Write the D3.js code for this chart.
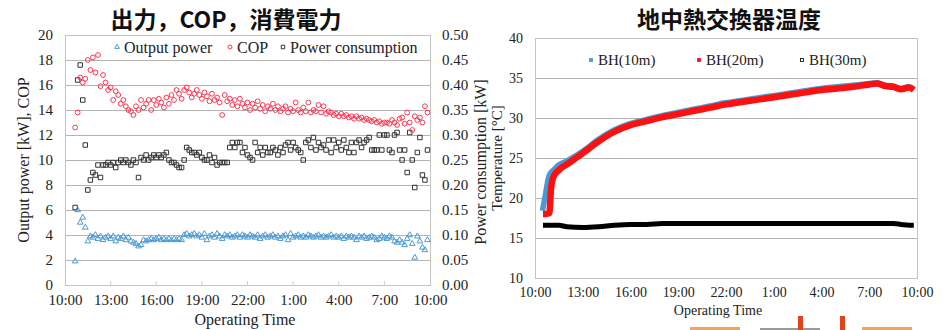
<!DOCTYPE html>
<html>
<head>
<meta charset="utf-8">
<script src="https://cdn.jsdelivr.net/npm/d3@7"></script>
<style>
  html, body { margin: 0; padding: 0; background: #fff; }
  svg { display: block; }
  .serif { font-family: "Liberation Serif", "DejaVu Serif", serif; fill: #222; }
  .ttl { font-family: "Noto Sans CJK JP", "Noto Sans CJK SC", sans-serif; font-weight: 700; fill: #111; }
</style>
</head>
<body>
<svg id="fig" width="948" height="330"></svg>
<script>
// ---- heat pump run: samples every 10 minutes, first sample at 10:40 ----
const sampleStartMin = 40;
const sampleStepMin = 10;

// Output power [kW]
const outputPower = [
  1.9, 6.0, 5.0, 5.4, 4.6, 3.5, 3.9, 3.8, 4.0, 3.7,
  3.9, 3.6, 3.8, 3.9, 3.7, 3.9, 3.5, 3.8, 3.7, 3.9,
  3.6, 3.8, 3.5, 3.4, 3.3, 3.1, 3.2, 3.6, 3.5, 3.6,
  3.7, 3.6, 3.7, 3.8, 3.6, 3.7, 3.6, 3.7, 3.6, 3.7,
  3.6, 3.7, 3.6, 4.0, 4.1, 3.9, 4.0, 4.1, 3.9, 4.0,
  3.8, 4.1, 3.6, 3.9, 4.0, 3.8, 4.1, 3.9, 3.7, 4.0,
  3.9, 4.0, 3.8, 3.9, 4.0, 3.8, 4.0, 3.9, 3.8, 4.0,
  3.9, 3.8, 4.0, 3.7, 3.9, 4.0, 3.8, 3.9, 4.0, 3.8,
  3.9, 3.7, 3.9, 4.0, 3.6, 4.1, 3.8, 3.9, 4.0, 3.8,
  3.9, 3.8, 4.0, 3.9, 3.8, 3.9, 4.0, 3.8, 3.9, 3.8,
  3.9, 4.0, 3.8, 3.9, 3.8, 3.9, 3.7, 3.9, 3.8, 3.9,
  3.8, 3.6, 3.9, 3.8, 3.9, 3.7, 3.8, 3.9, 3.8, 3.6,
  3.7, 3.9, 3.8, 3.7, 3.9, 3.8, 3.5, 3.4, 3.6, 3.4,
  3.2, 3.7, 4.0, 3.3, 2.2, 3.9, 3.5, 3.0, 2.8, 3.6
];

// COP [-]
const cop = [
  12.6, 13.8, 16.6, 16.2, 16.5, 18.0, 17.2, 18.2, 17.0, 18.4,
  15.9, 16.8, 16.2, 15.6, 15.8, 14.8, 15.5, 15.2, 14.5, 14.8,
  14.3, 14.0, 13.9, 13.6, 14.3, 14.0, 14.8, 14.2, 14.5, 14.8,
  14.0, 14.8, 14.4, 14.9, 14.6, 14.2, 15.0, 14.5, 15.2, 14.8,
  15.6, 15.3, 14.9, 15.6, 15.8, 15.4, 15.0, 15.3, 15.6, 15.2,
  14.9, 15.4, 15.1, 14.7, 15.3, 14.8, 15.0, 14.6, 13.6, 15.2,
  14.7, 14.9, 14.4, 14.8, 14.3, 14.9, 14.5, 14.2, 14.6, 14.0,
  14.5, 14.2, 14.7, 14.1, 14.4, 13.9, 14.3, 14.1, 14.5, 14.0,
  14.3, 13.9, 14.1, 14.3, 13.8, 14.1, 13.9, 14.6, 14.0, 13.8,
  14.2, 13.9, 14.6, 13.8, 14.0, 13.9, 14.4, 13.8, 14.3, 13.7,
  13.9, 13.8, 13.6, 13.7, 13.5, 13.7, 13.5, 13.6, 13.4, 13.5,
  13.3, 13.5, 13.3, 13.4, 13.2, 13.3, 13.2, 13.1, 13.2, 13.0,
  13.1, 12.9, 13.0, 13.0, 12.9, 13.2, 13.0, 12.8, 13.3, 13.4,
  12.9, 13.8, 13.0, 12.4, 13.5, 13.2, 13.4, 13.0, 14.3, 13.8
];

// Power consumption [kW] (secondary axis)
const powerConsumption = [
  0.155, 0.41, 0.44, 0.37, 0.28, 0.19, 0.21, 0.225, 0.22, 0.24,
  0.215, 0.24, 0.24, 0.245, 0.24, 0.245, 0.235, 0.245, 0.25, 0.245,
  0.25, 0.245, 0.24, 0.25, 0.245, 0.215, 0.255, 0.25, 0.26, 0.25,
  0.255, 0.26, 0.255, 0.26, 0.255, 0.26, 0.265, 0.25, 0.245, 0.245,
  0.24, 0.235, 0.235, 0.25, 0.275, 0.27, 0.265, 0.265, 0.26, 0.265,
  0.255, 0.25, 0.25, 0.26, 0.245, 0.255, 0.24, 0.245, 0.245, 0.245,
  0.245, 0.275, 0.285, 0.275, 0.285, 0.285, 0.265, 0.275, 0.26, 0.255,
  0.25, 0.285, 0.265, 0.275, 0.26, 0.275, 0.265, 0.265, 0.275, 0.27,
  0.26, 0.275, 0.265, 0.28, 0.285, 0.27, 0.285, 0.275, 0.27, 0.265,
  0.25, 0.285, 0.29, 0.275, 0.295, 0.27, 0.285, 0.275, 0.28, 0.27,
  0.29, 0.265, 0.29, 0.275, 0.285, 0.27, 0.29, 0.275, 0.265, 0.285,
  0.265, 0.285, 0.29, 0.275, 0.285, 0.29, 0.295, 0.27, 0.27, 0.27,
  0.30, 0.27, 0.30, 0.30, 0.27, 0.265, 0.30, 0.305, 0.27, 0.25,
  0.27, 0.225, 0.305, 0.25, 0.195, 0.265, 0.295, 0.22, 0.21, 0.27
];

// ---- borehole heat exchanger temperatures [°C], hours after 10:00 ----
const bhHours = [0.5, 0.7, 0.9, 1.0, 1.15, 1.5, 2, 3, 4, 5, 6, 7, 8, 9, 10, 11, 12,
                 13, 14, 15, 16, 17, 18, 19, 20, 21, 21.5, 22, 22.5, 23, 23.5, 23.8];
const bh10 = [18.3, 20.5, 22.6, 23.0, 23.3, 24.0, 24.5, 25.7, 27.2, 28.4, 29.2, 29.7, 30.2, 30.6, 31.0, 31.4, 31.8,
              32.1, 32.4, 32.7, 33.0, 33.3, 33.6, 33.8, 34.0, 34.2, 34.3, 34.0, 33.9, 33.6, 33.8, 33.5];
const bh20 = [18.0, 18.0, 18.1, 21.0, 22.6, 23.5, 24.2, 25.6, 27.1, 28.3, 29.1, 29.6, 30.1, 30.5, 30.9, 31.3, 31.7,
              32.0, 32.3, 32.6, 32.9, 33.2, 33.5, 33.7, 33.9, 34.2, 34.3, 34.0, 33.9, 33.6, 33.8, 33.5];
const bh30 = [16.6, 16.6, 16.6, 16.6, 16.6, 16.6, 16.4, 16.3, 16.4, 16.6, 16.7, 16.7, 16.8, 16.8, 16.8, 16.8, 16.8,
              16.8, 16.8, 16.8, 16.8, 16.8, 16.8, 16.8, 16.8, 16.8, 16.8, 16.8, 16.8, 16.7, 16.6, 16.6];

// shared axis ticks
const hourTicks = [0, 3, 6, 9, 12, 15, 18, 21, 24];
const leftTicks = [0, 2, 4, 6, 8, 10, 12, 14, 16, 18, 20];
const rightTicks = [0, 0.05, 0.10, 0.15, 0.20, 0.25, 0.30, 0.35, 0.40, 0.45, 0.50];
const tempTicks = [10, 15, 20, 25, 30, 35, 40];

const C_BLUE = "#4a9ad6", C_RED = "#ff3550", C_BLACK = "#333";
const clockLabel = h => ((10 + h) % 24) + ":00";

const svg = d3.select("#fig");

// ================= left panel: output power, COP, power consumption =================
{
  const x = d3.scaleLinear().domain([0, 24]).range([65, 430]);
  const y = d3.scaleLinear().domain([0, 20]).range([285, 35]);
  const y2 = d3.scaleLinear().domain([0, 0.5]).range([285, 35]);
  const g = svg.append("g");

  g.append("g").selectAll("line").data(leftTicks).join("line")
    .attr("x1", x(0)).attr("x2", x(24))
    .attr("y1", d => y(d) + 0.5).attr("y2", d => y(d) + 0.5)
    .attr("stroke", "#b4b4b4").attr("stroke-width", 1);
  g.append("rect").attr("x", x(0) + 0.5).attr("y", y(20) + 0.5)
    .attr("width", x(24) - x(0)).attr("height", y(0) - y(20))
    .attr("fill", "none").attr("stroke", "#c4c4c4");
  g.append("g").selectAll("line").data(hourTicks.slice(1, -1)).join("line")
    .attr("x1", d => x(d)).attr("x2", d => x(d))
    .attr("y1", y(0) - 4).attr("y2", y(0))
    .attr("stroke", "#d0d0d0");

  const axL = g.append("g").attr("transform", `translate(${x(0) - 12},0)`)
    .call(d3.axisLeft(y).tickValues(leftTicks).tickSize(0).tickPadding(0));
  const axR = g.append("g").attr("transform", `translate(${x(24) + 12},0)`)
    .call(d3.axisRight(y2).tickValues(rightTicks).tickSize(0).tickPadding(0).tickFormat(d3.format(".2f")));
  const axB = g.append("g").attr("transform", `translate(0,${y(0) + 8})`)
    .call(d3.axisBottom(x).tickValues(hourTicks).tickSize(0).tickPadding(0).tickFormat(clockLabel));
  [axL, axR, axB].forEach(a => {
    a.select(".domain").remove();
    a.selectAll("text").attr("class", "serif").style("font-size", "15px");
  });
  axB.selectAll("text").attr("dy", "0.8em");

  const hours = i => (sampleStartMin + sampleStepMin * i) / 60;
  const tri = d3.symbol().type(d3.symbolTriangle).size(14);
  const sq = d3.symbol().type(d3.symbolSquare).size(20);

  g.append("g").selectAll("path").data(powerConsumption).join("path")
    .attr("d", sq).attr("transform", (d, i) => `translate(${x(hours(i))},${y2(d)})`)
    .attr("fill", "none").attr("stroke", C_BLACK).attr("stroke-width", 1);
  g.append("g").selectAll("circle").data(cop).join("circle")
    .attr("cx", (d, i) => x(hours(i))).attr("cy", d => y(d)).attr("r", 2.4)
    .attr("fill", "none").attr("stroke", C_RED).attr("stroke-width", 1);
  g.append("g").selectAll("path").data(outputPower).join("path")
    .attr("d", tri).attr("transform", (d, i) => `translate(${x(hours(i))},${y(d)})`)
    .attr("fill", "none").attr("stroke", C_BLUE).attr("stroke-width", 1);

  // legend
  const leg = g.append("g").attr("class", "serif").style("font-size", "16px");
  const items = [
    { label: "Output power", sym: "tri", color: C_BLUE, x: 117 },
    { label: "COP", sym: "circ", color: C_RED, x: 230 },
    { label: "Power consumption", sym: "sq", color: C_BLACK, x: 283 }
  ];
  items.forEach(it => {
    const m = it.sym === "circ"
      ? leg.append("circle").attr("cx", it.x).attr("cy", 47).attr("r", 2)
      : leg.append("path").attr("d", (it.sym === "tri" ? d3.symbol().type(d3.symbolTriangle).size(10) : d3.symbol().type(d3.symbolSquare).size(12))())
          .attr("transform", `translate(${it.x},47)`);
    m.attr("fill", "none").attr("stroke", it.color);
    leg.append("text").attr("x", it.x + 7).attr("y", 52.5).text(it.label);
  });

  g.append("text").attr("class", "serif").style("font-size", "16px")
    .attr("text-anchor", "middle").attr("x", 245).attr("y", 325).text("Operating Time");
  g.append("text").attr("class", "serif").style("font-size", "16px")
    .attr("text-anchor", "middle").attr("transform", "translate(29,160) rotate(-90)")
    .text("Output power [kW], COP");
  g.append("text").attr("class", "serif").style("font-size", "16px")
    .attr("text-anchor", "middle").attr("transform", "translate(486,162) rotate(-90)")
    .text("Power consumption [kW]");
  g.append("text").attr("class", "ttl").style("font-size", "23px")
    .attr("text-anchor", "middle").attr("x", 226).attr("y", 28).text("出力，COP，消費電力");
}

// ================= right panel: borehole temperatures =================
{
  const x = d3.scaleLinear().domain([0, 24]).range([535, 917]);
  const y = d3.scaleLinear().domain([10, 40]).range([278, 38]);
  const g = svg.append("g");

  g.append("g").selectAll("line").data(tempTicks).join("line")
    .attr("x1", x(0)).attr("x2", x(24))
    .attr("y1", d => y(d) + 0.5).attr("y2", d => y(d) + 0.5)
    .attr("stroke", "#b4b4b4");
  g.append("rect").attr("x", x(0) + 0.5).attr("y", y(40) + 0.5)
    .attr("width", x(24) - x(0)).attr("height", y(10) - y(40))
    .attr("fill", "none").attr("stroke", "#c4c4c4");

  const axL = g.append("g").attr("transform", `translate(${x(0) - 12},0)`)
    .call(d3.axisLeft(y).tickValues(tempTicks).tickSize(0).tickPadding(0));
  const axB = g.append("g").attr("transform", `translate(0,${y(10) + 8})`)
    .call(d3.axisBottom(x).tickValues(hourTicks).tickSize(0).tickPadding(0).tickFormat(clockLabel));
  [axL, axB].forEach(a => {
    a.select(".domain").remove();
    a.selectAll("text").attr("class", "serif").style("font-size", "14px");
  });
  axB.selectAll("text").attr("dy", "0.75em");

  const line = vals => d3.line().x((d, i) => x(bhHours[i])).y(d => y(d)).curve(d3.curveMonotoneX)(vals);
  g.append("path").attr("d", line(bh30)).attr("fill", "none").attr("stroke", "#000")
    .attr("stroke-width", 5).attr("stroke-linejoin", "round");
  g.append("path").attr("d", line(bh10)).attr("fill", "none").attr("stroke", C_BLUE)
    .attr("stroke-width", 5.5).attr("stroke-linejoin", "round").attr("transform", "translate(-0.5,-0.8)");
  g.append("path").attr("d", line(bh20)).attr("fill", "none").attr("stroke", "#ff1010")
    .attr("stroke-width", 6.5).attr("stroke-linejoin", "round");

  const leg = g.append("g").attr("class", "serif").style("font-size", "15px");
  [
    { label: "BH(10m)", color: C_BLUE, x: 591 },
    { label: "BH(20m)", color: "#ff1010", x: 699 },
    { label: "BH(30m)", color: "#000", x: 802 }
  ].forEach(it => {
    leg.append("rect").attr("x", it.x - 1.5).attr("y", 58.5).attr("width", 3).attr("height", 3)
      .attr("fill", it.label === "BH(30m)" ? "none" : it.color).attr("stroke", it.color).attr("stroke-width", 0.8);
    leg.append("text").attr("x", it.x + 7).attr("y", 65).text(it.label);
  });

  g.append("text").attr("class", "serif").style("font-size", "14px")
    .attr("text-anchor", "middle").attr("x", 718).attr("y", 315).text("Operating Time");
  g.append("text").attr("class", "serif").style("font-size", "15px")
    .attr("text-anchor", "middle").attr("transform", "translate(502,158) rotate(-90)")
    .text("Temperature [°C]");
  g.append("text").attr("class", "ttl").style("font-size", "23px")
    .attr("text-anchor", "middle").attr("x", 729).attr("y", 28).text("地中熱交換器温度");

  // edge of the next figure peeking in below the panel
  const deco = svg.append("g");
  deco.append("rect").attr("x", 690).attr("y", 327).attr("width", 50).attr("height", 3).attr("fill", "#f3a45c");
  deco.append("rect").attr("x", 760).attr("y", 328).attr("width", 60).attr("height", 2).attr("fill", "#999");
  deco.append("rect").attr("x", 862).attr("y", 327).attr("width", 50).attr("height", 3).attr("fill", "#f3a45c");
  deco.append("rect").attr("x", 798).attr("y", 316).attr("width", 5).attr("height", 14).attr("fill", "#e0451a");
  deco.append("rect").attr("x", 840).attr("y", 316).attr("width", 5).attr("height", 14).attr("fill", "#e0451a");
}
</script>
</body>
</html>
